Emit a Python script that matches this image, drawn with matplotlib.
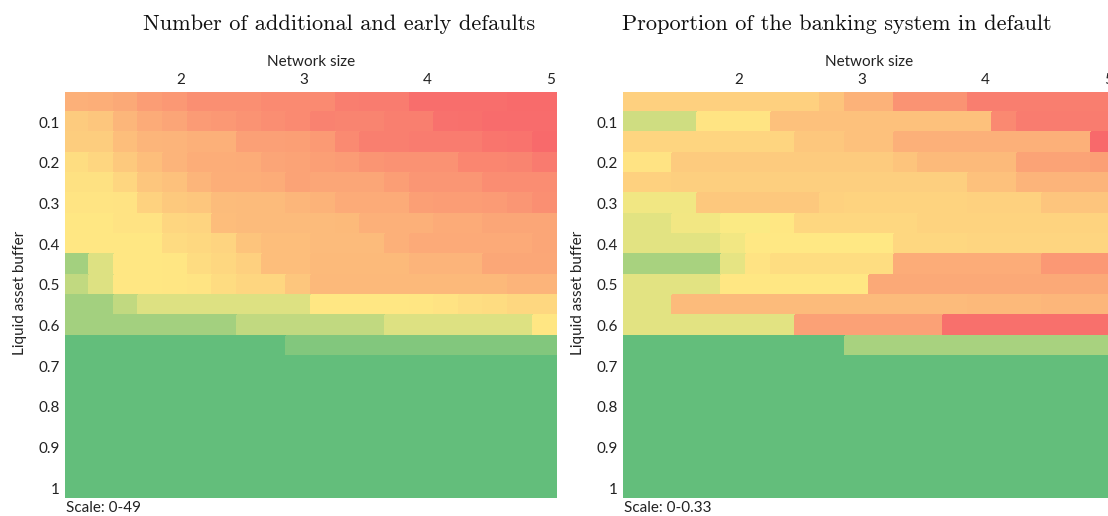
import numpy as np
import matplotlib
matplotlib.use("Agg")
import matplotlib.pyplot as plt
from matplotlib.colors import LinearSegmentedColormap

# ---------------- data ----------------
network_size = [1.2, 1.4, 1.6, 1.8, 2.0, 2.2, 2.4, 2.6, 2.8, 3.0,
                3.2, 3.4, 3.6, 3.8, 4.0, 4.2, 4.4, 4.6, 4.8, 5.0]
liquid_buffer = [0.05, 0.10, 0.15, 0.20, 0.25, 0.30, 0.35, 0.40, 0.45, 0.50,
                 0.55, 0.60, 0.65, 0.70, 0.75, 0.80, 0.85, 0.90, 0.95, 1.00]
x_ticks = [2, 3, 4, 5]
x_tick_labels = ["2", "3", "4", "5"]
y_ticks = [0.1, 0.2, 0.3, 0.4, 0.5, 0.6, 0.7, 0.8, 0.9, 1.0]
y_tick_labels = ["0.1", "0.2", "0.3", "0.4", "0.5", "0.6", "0.7", "0.8", "0.9", "1"]

# Number of additional and early defaults (scale 0-49)
defaults = [
    [35.6, 35.8, 36.8, 39.2, 40.1, 41.9, 41.9, 41.9, 42.8, 42.8, 42.8, 44.8, 45.2, 45.2, 48.0, 48.0, 48.0, 48.0, 48.6, 48.6],
    [30.5, 31.5, 34.3, 36.4, 37.7, 39.6, 40.1, 41.1, 42.0, 42.8, 44.1, 43.9, 43.9, 44.6, 44.6, 47.3, 47.5, 48.3, 48.3, 48.3],
    [30.1, 30.1, 33.1, 34.5, 34.7, 35.5, 35.5, 38.5, 38.5, 38.8, 39.8, 42.8, 44.6, 44.6, 45.2, 45.2, 45.2, 46.7, 46.9, 48.8],
    [27.1, 28.4, 30.9, 33.1, 34.7, 36.0, 36.0, 36.3, 37.7, 38.0, 38.7, 39.4, 40.7, 41.3, 41.3, 41.3, 43.6, 43.6, 43.9, 45.4],
    [26.4, 26.4, 28.4, 31.5, 32.4, 34.5, 35.8, 35.8, 36.3, 38.0, 37.5, 37.5, 37.5, 38.9, 40.5, 40.5, 40.5, 42.2, 42.2, 42.2],
    [25.8, 25.8, 26.0, 29.2, 30.9, 31.5, 33.4, 33.5, 33.5, 34.3, 34.9, 36.5, 36.5, 36.5, 38.7, 39.2, 39.2, 39.6, 40.5, 41.9],
    [25.1, 25.1, 26.0, 26.0, 28.4, 28.9, 33.3, 33.5, 33.5, 33.5, 33.5, 33.7, 35.6, 35.6, 35.6, 36.5, 36.5, 37.5, 37.5, 37.5],
    [25.1, 25.1, 25.1, 25.1, 27.5, 28.0, 28.9, 31.9, 33.1, 33.1, 33.5, 33.5, 33.5, 35.6, 36.7, 36.7, 36.7, 36.7, 36.7, 37.5],
    [10.0, 19.2, 25.1, 25.1, 25.3, 27.2, 28.2, 29.6, 33.1, 33.1, 33.7, 33.7, 33.7, 33.7, 34.7, 34.7, 34.7, 37.3, 37.3, 37.3],
    [14.9, 19.2, 25.1, 25.1, 25.3, 25.7, 27.2, 28.4, 28.4, 31.5, 33.9, 33.9, 33.9, 33.9, 33.9, 33.9, 33.9, 33.9, 34.7, 34.7],
    [10.0, 10.0, 14.9, 19.2, 19.2, 19.2, 19.2, 19.2, 19.2, 19.2, 25.1, 25.1, 25.1, 25.1, 25.3, 26.0, 26.8, 27.3, 28.2, 28.2],
    [10.0, 10.0, 10.0, 10.0, 10.0, 10.0, 10.0, 14.9, 14.9, 14.9, 14.9, 14.9, 14.9, 19.2, 19.2, 19.2, 19.2, 19.2, 19.2, 25.3],
    [0.0, 0.0, 0.0, 0.0, 0.0, 0.0, 0.0, 0.0, 0.0, 4.9, 4.9, 4.9, 4.9, 4.9, 4.9, 4.9, 4.9, 4.9, 4.9, 4.9],
    [0.0, 0.0, 0.0, 0.0, 0.0, 0.0, 0.0, 0.0, 0.0, 0.0, 0.0, 0.0, 0.0, 0.0, 0.0, 0.0, 0.0, 0.0, 0.0, 0.0],
    [0.0, 0.0, 0.0, 0.0, 0.0, 0.0, 0.0, 0.0, 0.0, 0.0, 0.0, 0.0, 0.0, 0.0, 0.0, 0.0, 0.0, 0.0, 0.0, 0.0],
    [0.0, 0.0, 0.0, 0.0, 0.0, 0.0, 0.0, 0.0, 0.0, 0.0, 0.0, 0.0, 0.0, 0.0, 0.0, 0.0, 0.0, 0.0, 0.0, 0.0],
    [0.0, 0.0, 0.0, 0.0, 0.0, 0.0, 0.0, 0.0, 0.0, 0.0, 0.0, 0.0, 0.0, 0.0, 0.0, 0.0, 0.0, 0.0, 0.0, 0.0],
    [0.0, 0.0, 0.0, 0.0, 0.0, 0.0, 0.0, 0.0, 0.0, 0.0, 0.0, 0.0, 0.0, 0.0, 0.0, 0.0, 0.0, 0.0, 0.0, 0.0],
    [0.0, 0.0, 0.0, 0.0, 0.0, 0.0, 0.0, 0.0, 0.0, 0.0, 0.0, 0.0, 0.0, 0.0, 0.0, 0.0, 0.0, 0.0, 0.0, 0.0],
    [0.0, 0.0, 0.0, 0.0, 0.0, 0.0, 0.0, 0.0, 0.0, 0.0, 0.0, 0.0, 0.0, 0.0, 0.0, 0.0, 0.0, 0.0, 0.0, 0.0],
]

# Proportion of the banking system in default (scale 0-0.33)
proportion = [
    [0.199, 0.199, 0.199, 0.199, 0.199, 0.199, 0.199, 0.199, 0.215, 0.236, 0.236, 0.277, 0.277, 0.277, 0.302, 0.302, 0.302, 0.302, 0.302, 0.302],
    [0.114, 0.114, 0.114, 0.173, 0.173, 0.173, 0.219, 0.219, 0.219, 0.219, 0.219, 0.219, 0.219, 0.219, 0.219, 0.289, 0.305, 0.305, 0.305, 0.305],
    [0.193, 0.193, 0.193, 0.193, 0.193, 0.193, 0.193, 0.211, 0.211, 0.219, 0.219, 0.239, 0.239, 0.239, 0.239, 0.239, 0.239, 0.239, 0.239, 0.330],
    [0.175, 0.175, 0.206, 0.206, 0.206, 0.206, 0.206, 0.206, 0.206, 0.206, 0.206, 0.215, 0.228, 0.228, 0.228, 0.228, 0.256, 0.256, 0.256, 0.261],
    [0.198, 0.198, 0.201, 0.201, 0.201, 0.201, 0.201, 0.201, 0.201, 0.201, 0.201, 0.201, 0.201, 0.201, 0.218, 0.218, 0.234, 0.234, 0.234, 0.234],
    [0.150, 0.150, 0.150, 0.210, 0.210, 0.210, 0.210, 0.210, 0.198, 0.195, 0.195, 0.195, 0.195, 0.195, 0.198, 0.198, 0.198, 0.213, 0.213, 0.213],
    [0.135, 0.135, 0.152, 0.152, 0.160, 0.160, 0.170, 0.190, 0.190, 0.190, 0.190, 0.190, 0.195, 0.195, 0.195, 0.195, 0.195, 0.195, 0.195, 0.195],
    [0.135, 0.135, 0.135, 0.135, 0.152, 0.168, 0.168, 0.168, 0.168, 0.168, 0.168, 0.190, 0.190, 0.190, 0.193, 0.193, 0.193, 0.193, 0.193, 0.193],
    [0.073, 0.073, 0.073, 0.073, 0.139, 0.175, 0.182, 0.182, 0.182, 0.182, 0.182, 0.244, 0.244, 0.244, 0.244, 0.244, 0.244, 0.270, 0.270, 0.270],
    [0.135, 0.135, 0.135, 0.135, 0.170, 0.170, 0.170, 0.170, 0.170, 0.170, 0.248, 0.248, 0.248, 0.248, 0.248, 0.248, 0.248, 0.248, 0.248, 0.248],
    [0.135, 0.135, 0.226, 0.226, 0.226, 0.226, 0.226, 0.226, 0.226, 0.226, 0.226, 0.226, 0.226, 0.226, 0.229, 0.229, 0.229, 0.232, 0.232, 0.232],
    [0.135, 0.135, 0.135, 0.135, 0.135, 0.135, 0.135, 0.259, 0.259, 0.259, 0.259, 0.259, 0.259, 0.320, 0.320, 0.320, 0.320, 0.320, 0.320, 0.320],
    [0.0, 0.0, 0.0, 0.0, 0.0, 0.0, 0.0, 0.0, 0.0, 0.073, 0.073, 0.073, 0.073, 0.073, 0.073, 0.073, 0.073, 0.073, 0.073, 0.073],
    [0.0, 0.0, 0.0, 0.0, 0.0, 0.0, 0.0, 0.0, 0.0, 0.0, 0.0, 0.0, 0.0, 0.0, 0.0, 0.0, 0.0, 0.0, 0.0, 0.0],
    [0.0, 0.0, 0.0, 0.0, 0.0, 0.0, 0.0, 0.0, 0.0, 0.0, 0.0, 0.0, 0.0, 0.0, 0.0, 0.0, 0.0, 0.0, 0.0, 0.0],
    [0.0, 0.0, 0.0, 0.0, 0.0, 0.0, 0.0, 0.0, 0.0, 0.0, 0.0, 0.0, 0.0, 0.0, 0.0, 0.0, 0.0, 0.0, 0.0, 0.0],
    [0.0, 0.0, 0.0, 0.0, 0.0, 0.0, 0.0, 0.0, 0.0, 0.0, 0.0, 0.0, 0.0, 0.0, 0.0, 0.0, 0.0, 0.0, 0.0, 0.0],
    [0.0, 0.0, 0.0, 0.0, 0.0, 0.0, 0.0, 0.0, 0.0, 0.0, 0.0, 0.0, 0.0, 0.0, 0.0, 0.0, 0.0, 0.0, 0.0, 0.0],
    [0.0, 0.0, 0.0, 0.0, 0.0, 0.0, 0.0, 0.0, 0.0, 0.0, 0.0, 0.0, 0.0, 0.0, 0.0, 0.0, 0.0, 0.0, 0.0, 0.0],
    [0.0, 0.0, 0.0, 0.0, 0.0, 0.0, 0.0, 0.0, 0.0, 0.0, 0.0, 0.0, 0.0, 0.0, 0.0, 0.0, 0.0, 0.0, 0.0, 0.0],
]

titles = ["Number of additional and early defaults",
          "Proportion of the banking system in default"]
scale_labels = ["Scale: 0-49", "Scale: 0-0.33"]
scale_max = [49, 0.33]

# ---------------- style ----------------
W, H = 1108, 516
SANS = "Lato"
SANS_SIZE = 11
TITLE_FONT = "cmr10"
cmap = LinearSegmentedColormap.from_list("excel3", ["#63BE7B", "#FFEB84", "#F8696B"])

fig = plt.figure(figsize=(W / 100, H / 100), dpi=100)

ax_left_px = [64.5, 622.7]
ax_w_px = 492.9
ax_top_px, ax_bot_px = 91.7, 498.3
title_cx = [339.4, 837.0]
tick_shift = 0.043  # reference ticks sit slightly right of the cell centres

xs = np.array(network_size)
ys = np.array(liquid_buffer)
x_edges = np.append(xs - 0.1, xs[-1] + 0.1)
y_edges = np.append(ys - 0.025, ys[-1] + 0.025)

for i, data in enumerate([defaults, proportion]):
    ax = fig.add_axes([ax_left_px[i] / W, 1 - ax_bot_px / H,
                       ax_w_px / W, (ax_bot_px - ax_top_px) / H])
    ax.pcolormesh(x_edges, y_edges, np.array(data), cmap=cmap,
                  vmin=0, vmax=scale_max[i], shading="flat",
                  edgecolors="face", linewidth=0.3)
    ax.set_xlim(x_edges[0], x_edges[-1])
    ax.set_ylim(y_edges[-1], y_edges[0])
    for s in ax.spines.values():
        s.set_visible(False)
    ax.xaxis.tick_top()
    ax.xaxis.set_label_position("top")
    ax.set_xticks(np.array(x_ticks) + tick_shift)
    ax.set_xticklabels(x_tick_labels, fontfamily=SANS, fontsize=SANS_SIZE)
    ax.set_yticks(y_ticks)
    ax.set_yticklabels(y_tick_labels, fontfamily=SANS, fontsize=SANS_SIZE)
    ax.tick_params(length=0, pad=3.5, colors="#222222")
    ax.set_xlabel("Network size", fontfamily=SANS, fontsize=SANS_SIZE,
                  labelpad=5, color="#222222")
    fig.text((ax_left_px[i] - 44.5) / W, 1 - 293 / H, "Liquid asset buffer",
             rotation=90, ha="center", va="center", fontfamily=SANS,
             fontsize=SANS_SIZE, color="#222222")
    fig.text((ax_left_px[i] + 1) / W, 1 - 508 / H, scale_labels[i],
             ha="left", va="center", fontfamily=SANS, fontsize=SANS_SIZE,
             color="#222222")
    fig.text(title_cx[i] / W, 1 - 30 / H, titles[i], ha="center",
             va="baseline", fontfamily=TITLE_FONT, fontsize=16.1,
             color="#111111")

fig.savefig("out.png", dpi=100)
